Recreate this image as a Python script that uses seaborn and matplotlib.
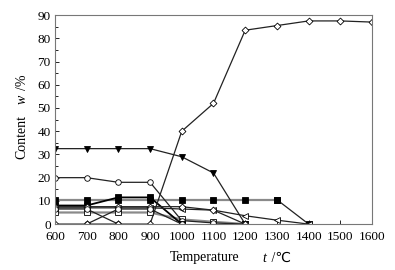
import numpy as np
import pandas as pd
import seaborn as sns
import matplotlib.pyplot as plt
from matplotlib.ticker import MultipleLocator

# Temperaturas (eixo x) e teores
temp = [600, 700, 800, 900, 1000, 1100, 1200, 1300, 1400, 1500, 1600]

diamante_grande = [0, 0, 0, 0, 40, 52, 83.5, 85.5, 87.5, 87.5, 87]
triangulo_baixo = [32.5, 32.5, 32.5, 32.5, 29, 22, 0]
circulo = [20, 20, 18, 18, 1.5, 0.5, 0]
quadrado_cinza = [10.5, 10.5, 10.5, 10.5, 10.5, 10.5, 10.5, 10.5]
quadrado_cinza_fim = [10.5, 0]
quadrado_preto = [8, 8, 11.5, 11.5, 0]
triangulo_esq = [7, 7, 7, 7, 6.5, 6, 3.6, 1.7, 0]
diamante_peq = [7.5, 7.5, 7.5, 7.5, 7.5, 6, 0]
quadrado_aberto = [5, 5, 5, 5, 2, 1, 0]
cruz_a = [6.5, 6.5, 0]
cruz_b = [0, 6.5, 6.5, 0]

# (valores, temperatura inicial, marcador, cor da linha, largura, preenchido)
series = [
    (quadrado_cinza, 600, "s", "#8a8a8a", 1.6, True),
    (quadrado_cinza_fim, 1300, "s", "#222222", 0.9, True),
    (quadrado_aberto, 600, "s", "#8a8a8a", 1.6, False),
    (triangulo_baixo, 600, "v", "#222222", 0.9, True),
    (circulo, 600, "o", "#222222", 0.9, False),
    (quadrado_preto, 600, "s", "#000000", 1.3, True),
    (triangulo_esq, 600, "<", "#222222", 0.9, False),
    (diamante_peq, 600, "D", "#222222", 0.9, False),
    (cruz_a, 600, "o", "#222222", 0.9, False),
    (cruz_b, 700, "o", "#222222", 0.9, False),
    (diamante_grande, 600, "D", "#222222", 0.9, False),
]

plt.rcParams["font.family"] = ["Liberation Serif", "DejaVu Serif"]
fig = plt.figure(figsize=(3.95, 2.7), dpi=100)
ax = fig.add_axes([0.139, 0.170, 0.803, 0.774])

for valores, t0, marcador, cor, larg, cheio in series:
    i0 = temp.index(t0)
    x = temp[i0:i0 + len(valores)]
    df = pd.DataFrame({"t": x, "w": valores})
    sns.lineplot(data=df, x="t", y="w", ax=ax, color=cor, linewidth=larg,
                 marker=marcador, markersize=4 if marcador != "D" else 3.5,
                 markerfacecolor="black" if cheio else "white",
                 markeredgecolor="black", markeredgewidth=0.6)

ax.set_xlim(600, 1600)
ax.set_ylim(0, 90)
ax.xaxis.set_major_locator(MultipleLocator(100))
ax.yaxis.set_major_locator(MultipleLocator(10))
ax.yaxis.set_minor_locator(MultipleLocator(5))
ax.tick_params(direction="in", labelsize=9.5, length=3, width=0.6)
ax.tick_params(axis="x", pad=5)
ax.tick_params(axis="y", pad=3)
ax.tick_params(which="minor", direction="in", length=2, width=0.6)
for s in ax.spines.values():
    s.set_color("#777777")
    s.set_linewidth(0.8)

ax.set_xlabel("")
ax.set_ylabel("")

# Rotulos dos eixos com a variavel em italico
fig.text(205 / 395, 1 - 258 / 270, "Temperature", fontsize=10, ha="center", va="center")
fig.text(262 / 395, 1 - 258 / 270, "t", fontsize=10, style="italic", ha="left", va="center")
fig.text(268 / 395, 1 - 258 / 270, " /℃", fontsize=10, ha="left", va="center",
         family=["Liberation Serif", "DejaVu Sans"])
fig.text(22 / 395, 1 - 137 / 270, "Content", fontsize=10, rotation=90, ha="center", va="center")
fig.text(22 / 395, 1 - 99 / 270, "w", fontsize=10, style="italic", rotation=90, ha="center", va="center")
fig.text(22 / 395, 1 - 82 / 270, "/%", fontsize=10, rotation=90, ha="center", va="center")

plt.savefig("out.png", dpi=100)
